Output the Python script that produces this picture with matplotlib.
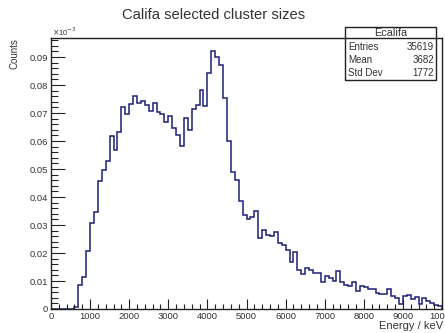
import numpy as np
import matplotlib.pyplot as plt
from matplotlib.patches import Rectangle
from matplotlib.lines import Line2D
from matplotlib.ticker import MultipleLocator, FuncFormatter

# --- DATA (normalised counts per 100 keV bin, 0 - 10000 keV) ---
bin_edges = np.arange(0, 10001, 100)
counts = [
    0, 0, 0, 0, 0, 0, 0.0008, 0.0085, 0.0113, 0.0208,
    0.0306, 0.0348, 0.0458, 0.0496, 0.0530, 0.0617, 0.0569, 0.0632, 0.0723, 0.0695,
    0.0731, 0.0760, 0.0737, 0.0742, 0.0730, 0.0708, 0.0735, 0.0705, 0.0698, 0.0668,
    0.0688, 0.0645, 0.0621, 0.0582, 0.0683, 0.0638, 0.0713, 0.0729, 0.0782, 0.0725,
    0.0842, 0.0923, 0.0900, 0.0870, 0.0755, 0.0600, 0.0490, 0.0460, 0.0385, 0.0336,
    0.0322, 0.0330, 0.0350, 0.0252, 0.0282, 0.0264, 0.0262, 0.0275, 0.0235, 0.0228,
    0.0211, 0.0169, 0.0205, 0.0139, 0.0125, 0.0145, 0.0138, 0.0128, 0.0127, 0.0095,
    0.0118, 0.0112, 0.0100, 0.0135, 0.0095, 0.0085, 0.0082, 0.0095, 0.0065, 0.0082,
    0.0080, 0.0072, 0.0072, 0.0058, 0.0055, 0.0055, 0.0070, 0.0046, 0.0040, 0.0018,
    0.0046, 0.0050, 0.0035, 0.0044, 0.0018, 0.0040, 0.0028, 0.0022, 0.0015, 0.0010,
]
hist_name = "Ecalifa"
stat_labels = ["Entries", "Mean", "Std Dev"]
stat_values = ["35619", "3682", "1772"]

FONT = "Liberation Sans"
TXT = "#333333"
W, H = 445, 333

fig = plt.figure(figsize=(W / 100, H / 100), dpi=100)
ax = fig.add_axes([51 / W, 1 - 309 / H, (442 - 51) / W, (309 - 37.7) / H])

ax.stairs(counts, bin_edges, color="#1c1f78", lw=1.1)

ax.set_xlim(0, 10000)
ax.set_ylim(0, max(counts) * 1.05)

# ROOT-like ticks: inside, only bottom/left
ax.xaxis.set_major_locator(MultipleLocator(1000))
ax.xaxis.set_minor_locator(MultipleLocator(200))
ax.yaxis.set_major_locator(MultipleLocator(0.01))
ax.yaxis.set_minor_locator(MultipleLocator(0.002))
ax.tick_params(axis="both", which="both", direction="in", top=False, right=False,
               colors="#222222", labelcolor=TXT, labelsize=6.8, width=0.8)
ax.tick_params(axis="x", which="major", length=7, pad=2)
ax.tick_params(axis="x", which="minor", length=3.5)
ax.tick_params(axis="y", which="major", length=10, pad=2)
ax.tick_params(axis="y", which="minor", length=5)
ax.xaxis.set_major_formatter(FuncFormatter(lambda v, p: f"{v:.0f}"))
ax.yaxis.set_major_formatter(FuncFormatter(lambda v, p: "0" if abs(v) < 1e-9 else f"{v:.2f}"))
for lab in ax.get_xticklabels() + ax.get_yticklabels():
    lab.set_fontfamily(FONT)
for s in ax.spines.values():
    s.set_linewidth(1.0)
    s.set_color("#222222")

fig.text(214 / W, 1 - 15 / H, "Califa selected cluster sizes", ha="center", va="center",
         fontsize=10.6, family=FONT, color=TXT)
fig.text(15 / W, 1 - 37.7 / H, "Counts", rotation=90, ha="center", va="top",
         fontsize=7, family=FONT, color=TXT)
fig.text(443 / W, 1 - 326 / H, "Energy / keV", ha="right", va="center",
         fontsize=8, family=FONT, color=TXT)
fig.text(52 / W, 1 - 32 / H, r"$\times$10$^{-3}$", ha="left", va="center",
         fontsize=5.5, family=FONT, color=TXT)

# statistics box
bx0, bx1, by0, by1 = 345, 436, 26.7, 80
fig.patches.append(Rectangle((bx0 / W, 1 - by1 / H), (bx1 - bx0) / W, (by1 - by0) / H,
                             transform=fig.transFigure, facecolor="white",
                             edgecolor="#222222", lw=1.0, zorder=5))
fig.lines.append(Line2D([bx0 / W, bx1 / W], [1 - 37.7 / H, 1 - 37.7 / H],
                        transform=fig.transFigure, color="#222222", lw=1.0, zorder=6))
fig.text((bx0 + bx1) / 2 / W, 1 - 32.5 / H, hist_name, ha="center", va="center",
         fontsize=7.8, family=FONT, color=TXT, zorder=7)
for i, (lab, val) in enumerate(zip(stat_labels, stat_values)):
    yy = 1 - (46.5 + i * 13.3) / H
    fig.text((bx0 + 3) / W, yy, lab, ha="left", va="center", fontsize=7,
             family=FONT, color=TXT, zorder=7)
    fig.text((bx1 - 2) / W, yy, val, ha="right", va="center", fontsize=7,
             family=FONT, color=TXT, zorder=7)

fig.savefig("out.png", dpi=100)
